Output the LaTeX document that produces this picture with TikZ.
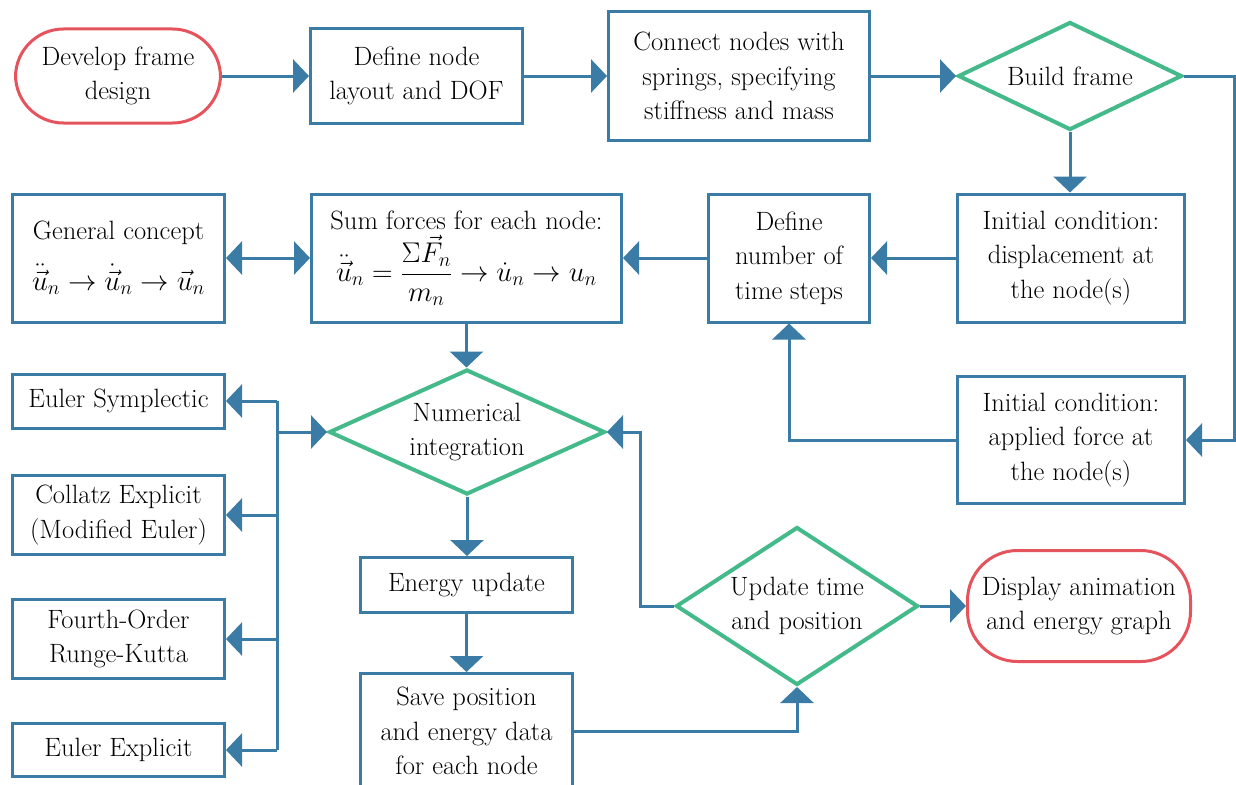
\RequirePackage{fix-cm}
\documentclass[tikz,border=0pt]{standalone}
\usetikzlibrary{shapes.geometric,arrows.meta}
\definecolor{cblue}{HTML}{3A7CA5}
\definecolor{cgreen}{HTML}{44B98A}
\definecolor{cred}{HTML}{E5535D}
\newcommand{\mymath}[1]{{\fontsize{28.5}{34.5}\selectfont$\displaystyle #1$}}
\begin{document}
\begin{tikzpicture}[x=1pt,y=-1pt,
  every node/.style={font=\fontsize{26.5}{34.5}\selectfont, text=black, align=center, inner sep=0pt},
  box/.style={draw=cblue, line width=3pt, fill=white, rectangle},
  dia/.style={draw=cgreen, line width=4pt, fill=white, shape=diamond},
  term/.style={draw=cred, line width=3pt, fill=white, rectangle, rounded corners=48pt},
  conn/.style={draw=cblue, line width=3pt, -{Triangle[length=16pt,width=33pt]}},
  conntwo/.style={draw=cblue, line width=3pt, {Triangle[length=16pt,width=33pt]}-{Triangle[length=16pt,width=33pt]}},
  plain/.style={draw=cblue, line width=3pt}]
\useasboundingbox (0,0) rectangle (1236,784);
\clip (0,0) rectangle (1236,784);
\fill[white] (0,0) rectangle (1236,784);

% top row
\node[term, minimum width=205pt, minimum height=94pt] (dev) at (118,76) {Develop frame\\design};
\node[box, minimum width=212pt, minimum height=95pt] (def) at (416.5,76) {Define node\\layout and DOF};
\node[box, minimum width=261pt, minimum height=128pt] (con) at (739,76) {Connect nodes with\\springs, specifying\\stiffness and mass};
\node[dia, aspect=2, minimum width=224pt, minimum height=108pt] (build) at (1070,76) {Build frame};

% second row
\node[box, minimum width=212pt, minimum height=128pt] (gen) at (118.5,258) {General concept\\[16pt]\mymath{\ddot{\vec{u}}_n \rightarrow \dot{\vec{u}}_n \rightarrow \vec{u}_n}};
\node[box, minimum width=310pt, minimum height=128pt] (sum) at (466.5,258) {Sum forces for each node:\\[4pt]\mymath{\ddot{\vec{u}}_n = \frac{\Sigma \vec{F}_n}{m_n} \rightarrow \dot{u}_n \rightarrow u_n}};
\node[box, minimum width=161pt, minimum height=128pt] (num) at (789,258) {Define\\number of\\time steps};
\node[box, minimum width=227pt, minimum height=128pt] (disp) at (1071,258) {Initial condition:\\displacement at\\the node(s)};

% third row
\node[box, minimum width=227pt, minimum height=127pt] (appl) at (1071,440) {Initial condition:\\applied force at\\the node(s)};
\node[dia, aspect=2.2, minimum width=276pt, minimum height=125pt] (numint) at (467,432) {Numerical\\integration};

% left column
\node[box, minimum width=212pt, minimum height=54pt] (es) at (118.5,401) {Euler Symplectic};
\node[box, minimum width=212pt, minimum height=79pt] (col) at (118.5,515) {Collatz Explicit\\(Modified Euler)};
\node[box, minimum width=212pt, minimum height=79pt] (rk) at (118.5,639) {Fourth-Order\\Runge-Kutta};
\node[box, minimum width=212pt, minimum height=53pt] (ee) at (118.5,750) {Euler Explicit};

% bottom middle
\node[box, minimum width=212pt, minimum height=55pt] (en) at (466.5,585) {Energy update};
\node[box, minimum width=212pt, minimum height=115pt] (save) at (466.5,731) {Save position\\and energy data\\for each node};
\node[dia, aspect=1.55, minimum width=242pt, minimum height=158pt] (upd) at (797,606) {Update time\\and position};
\node[term, minimum width=223pt, minimum height=111pt, rounded corners=50pt] (show) at (1079,606) {Display animation\\and energy graph};

% connectors
\draw[conn] (dev.east) -- (dev.east -| def.west);
\draw[conn] (def.east) -- (def.east -| con.west);
\draw[conn] (con.east) -- (build.west);
\draw[conn] (build.south) -- (build.south |- disp.north);
\coordinate (rr) at (1234,76);
\draw[conn] (build.east) -- (rr) |- (appl.east);
\draw[conn] (disp.west) -- (num.east);
\draw[conn] (num.west) -- (sum.east);
\draw[conntwo] (gen.east) -- (sum.west);
\draw[conn] (appl.west) -| (num.south);
\draw[conn] (sum.south) -- (sum.south |- numint.north);

\coordinate (bus) at (277,432);
\draw[conn] (bus) -- (numint.west);
\draw[plain] (bus |- es.east) -- (bus |- ee.east);
\draw[conn] (bus |- es.east) -- (es.east);
\draw[conn] (bus |- col.east) -- (col.east);
\draw[conn] (bus |- rk.east) -- (rk.east);
\draw[conn] (bus |- ee.east) -- (ee.east);

\draw[conn] (numint.south) -- (numint.south |- en.north);
\draw[conn] (en.south) -- (save.north);
\draw[conn] (save.east) -| (upd.south);
\coordinate (lp) at (640,606);
\draw[conn] (upd.west) -- (lp) |- (numint.east);
\draw[conn] (upd.east) -- (show.west);
\end{tikzpicture}
\end{document}
